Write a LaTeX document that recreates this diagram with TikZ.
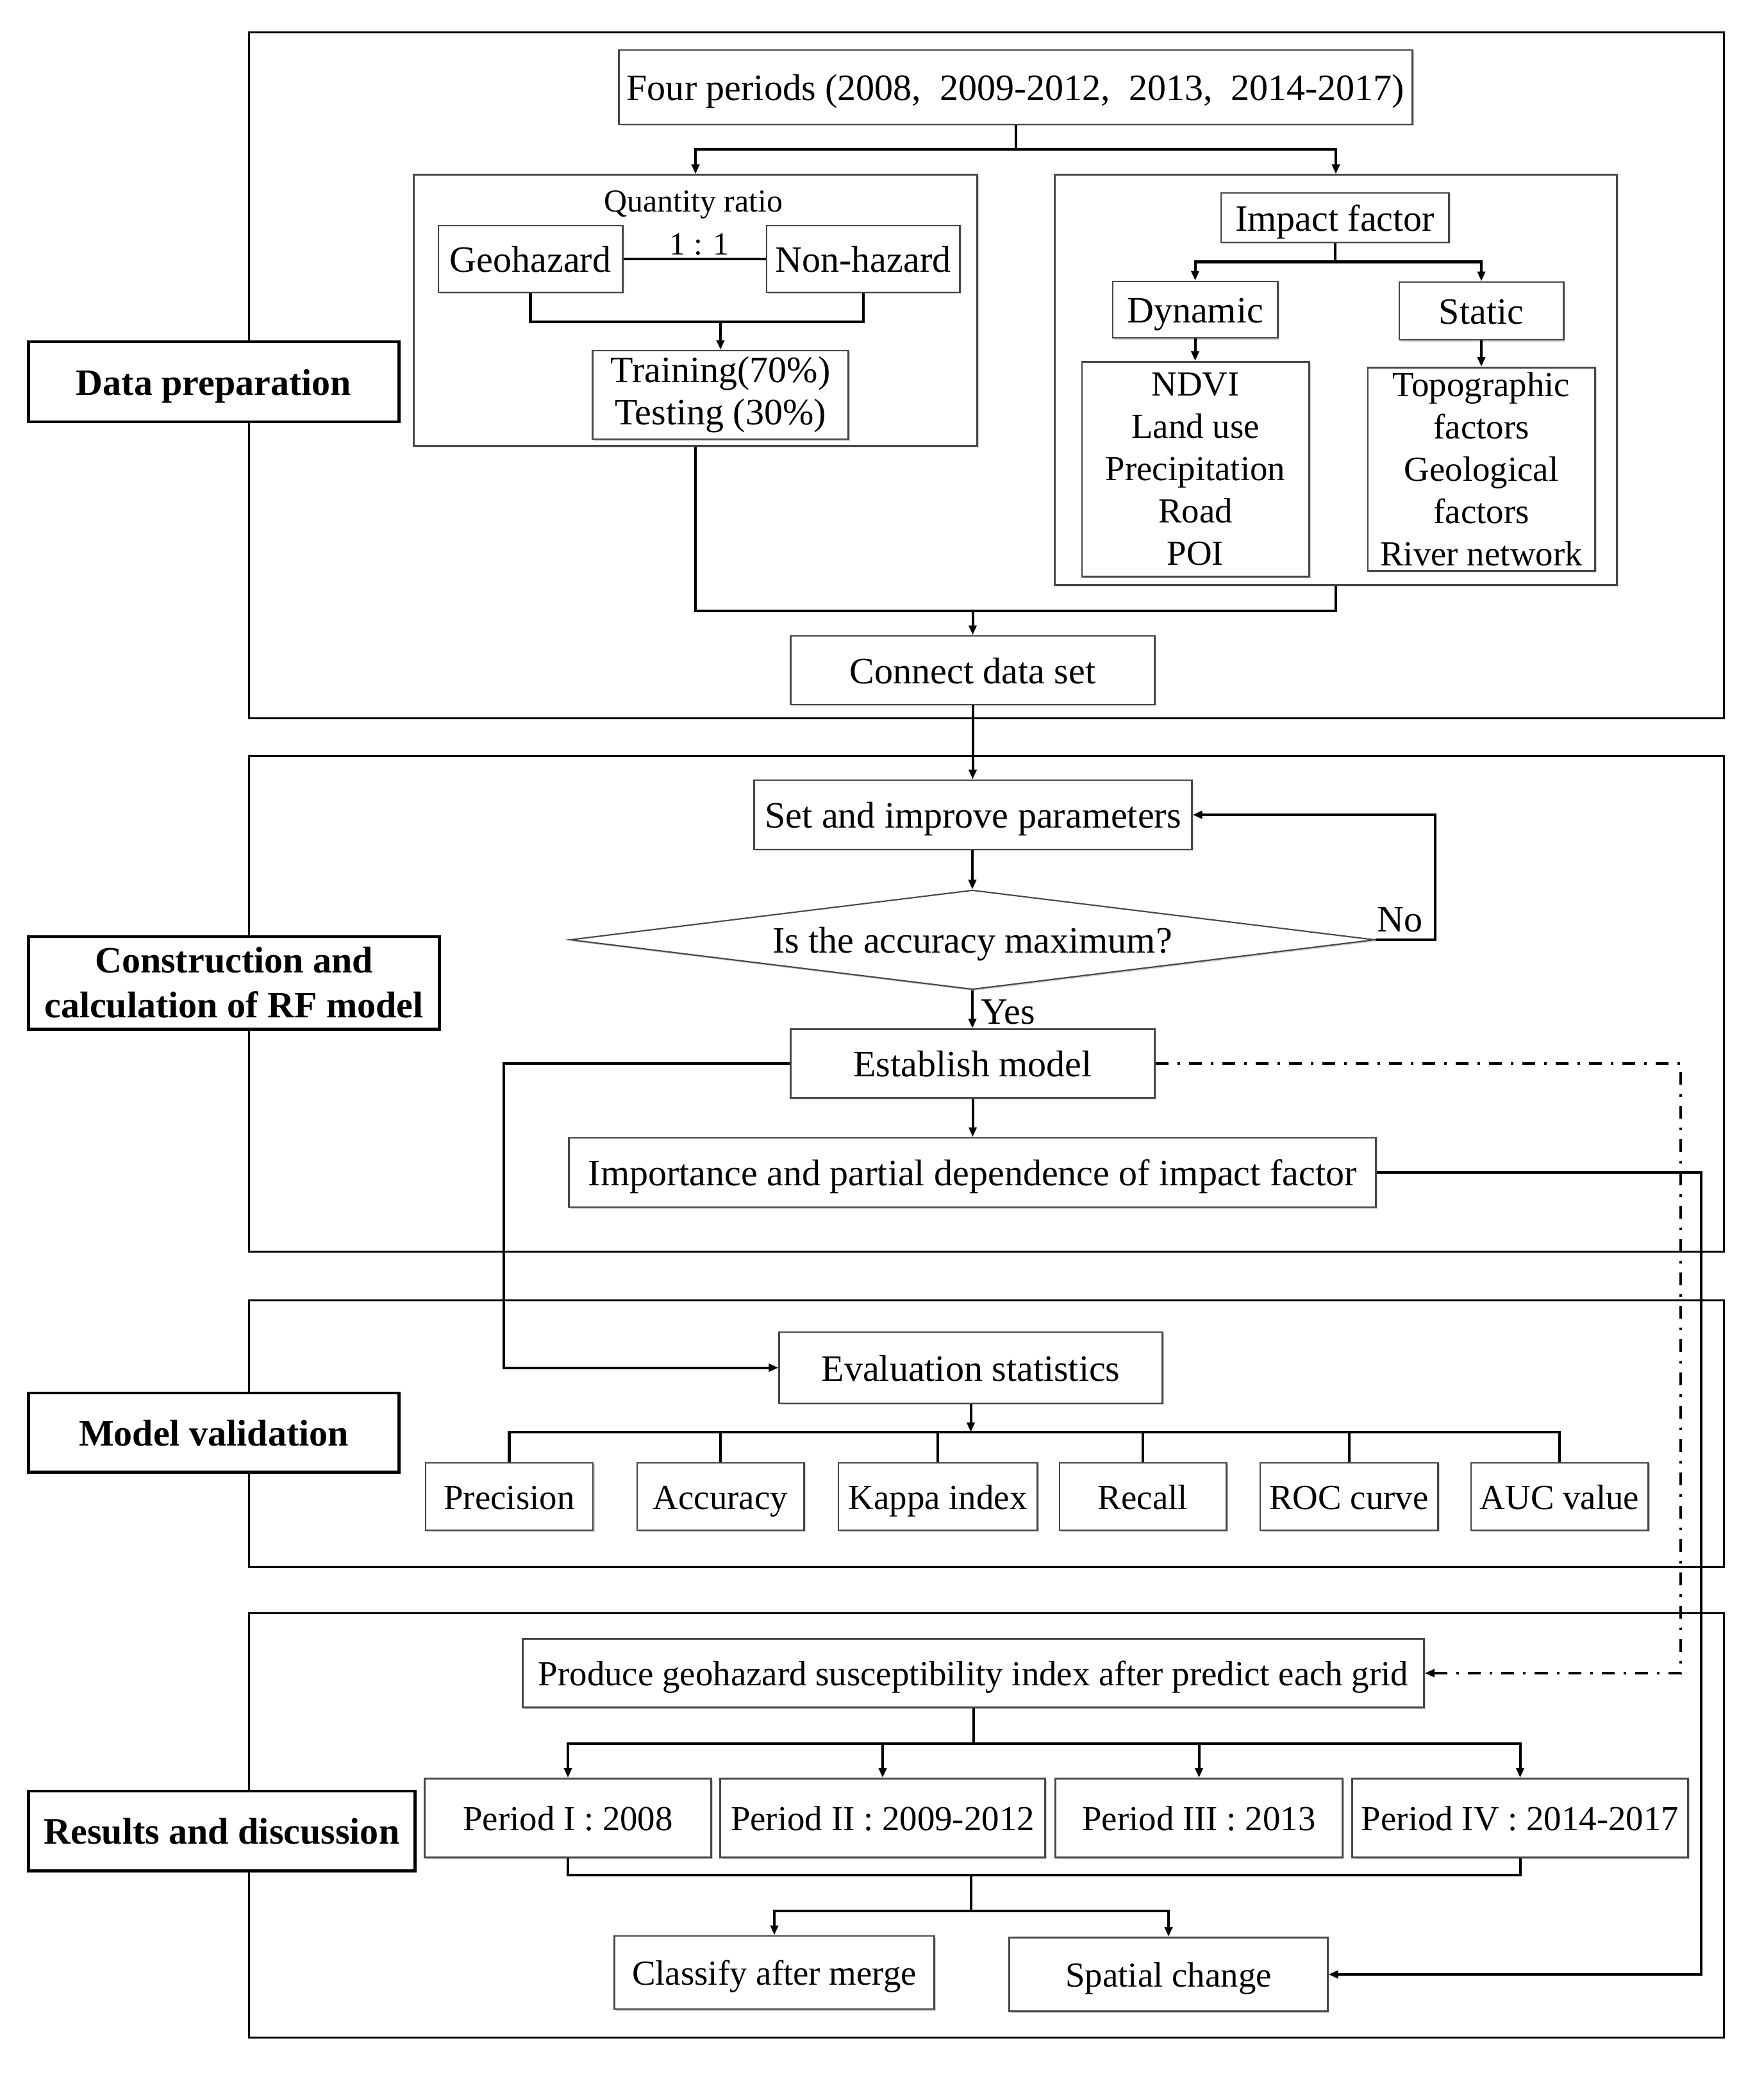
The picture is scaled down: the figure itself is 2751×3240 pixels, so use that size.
\documentclass[tikz,border=0pt]{standalone}
\usepackage{fontspec}
\setmainfont{Liberation Serif}
\usetikzlibrary{arrows.meta,shapes.geometric,shadows}
\begin{document}
\begin{tikzpicture}[x=0.01cm,y=-0.01cm,
  conn/.style={line width=1.15pt,black},
  arr/.style={conn,-{Triangle[length=0.15cm,width=0.12cm]}},
  ddline/.style={dash pattern=on 0.2cm off 0.14cm on 0.04cm off 0.14cm},
  frame/.style={line width=0.85pt,black},
  shd/.style={drop shadow={shadow xshift=0.025cm,shadow yshift=-0.025cm,fill=black,opacity=0.18}},
  bx/.style={draw=black!72,line width=0.8pt,fill=white,inner sep=0pt,align=center,
    font=\fontsize{16.5pt}{18.8pt}\selectfont,shd},
  one/.style={text height=15.2pt,text depth=3.3pt},
  smfont/.style={font=\fontsize{15.6pt}{18.8pt}\selectfont},
  onesm/.style={smfont,text height=14.35pt,text depth=3.1pt},
  lab/.style={draw=black,line width=1.4pt,fill=white,inner sep=0pt,align=center,
    font=\fontsize{16.5pt}{20pt}\selectfont\bfseries},
  dia/.style={diamond,aspect=8,draw=black!72,line width=0.6pt,fill=white,inner sep=0pt,
    font=\fontsize{16.5pt}{18.8pt}\selectfont,shd,one},
  txt/.style={inner sep=0pt,font=\fontsize{16.5pt}{18.8pt}\selectfont},
  smalltxt/.style={inner sep=0pt,font=\fontsize{14.2pt}{16pt}\selectfont},
]
\useasboundingbox (0,0) rectangle (2751,3240);

% section frames
\draw[frame] (388,51) rectangle (2689,1120);
\draw[frame] (388,1179) rectangle (2689,1952);
\draw[frame] (388,2028) rectangle (2689,2444);
\draw[frame] (388,2516) rectangle (2689,3178);

% section labels
\node[lab,one,minimum width=5.77cm,minimum height=1.25cm] (lab1) at (333.5,595.5) {Data preparation};
\node[lab,minimum width=6.40cm,minimum height=1.44cm] (lab2) at (365,1533) {Construction and\\calculation of RF model};
\node[lab,one,minimum width=5.77cm,minimum height=1.23cm] (lab3) at (333.5,2234.5) {Model validation};
\node[lab,one,minimum width=6.02cm,minimum height=1.24cm] (lab4) at (346,2856) {Results and discussion};

% ---------- Data preparation ----------
\node[bx,one,minimum width=12.37cm,minimum height=1.16cm] (four) at (1584.5,136)
  {Four periods (2008,\ \ 2009-2012,\ \ 2013,\ \ 2014-2017)};
\node[bx,minimum width=8.78cm,minimum height=4.22cm] (leftin) at (1085,484) {};
\node[bx,minimum width=8.76cm,minimum height=6.39cm] (rightin) at (2084,592.5) {};

\node[smalltxt] (qr) at (1082,319) {Quantity ratio};
\node[bx,one,minimum width=2.87cm,minimum height=1.04cm] (geo) at (827.5,404) {Geohazard};
\node[bx,one,minimum width=3.01cm,minimum height=1.04cm] (non) at (1346.5,404) {Non-hazard};
\node[smalltxt] (ratio) at (1091,381) {1 : 1};
\node[bx,minimum width=3.98cm,minimum height=1.38cm] (train) at (1124,616)
  {Training(70\%)\\Testing (30\%)};

\node[bx,one,minimum width=3.55cm,minimum height=0.77cm] (impact) at (2082.5,339.5) {Impact factor};
\node[bx,one,minimum width=2.57cm,minimum height=0.88cm] (dyn) at (1864.5,483) {Dynamic};
\node[bx,one,minimum width=2.56cm,minimum height=0.90cm] (stat) at (2311,485) {Static};
\node[bx,smfont,minimum width=3.54cm,minimum height=3.35cm] (dynlist) at (1865,732)
  {NDVI\\Land use\\Precipitation\\Road\\POI};
\node[bx,smfont,minimum width=3.54cm,minimum height=3.17cm] (statlist) at (2311,732)
  {Topographic\\factors\\Geological\\factors\\River network};

\node[bx,one,minimum width=5.67cm,minimum height=1.07cm] (cds) at (1517.5,1045.5) {Connect data set};

% ---------- RF model ----------
\node[bx,one,minimum width=6.82cm,minimum height=1.08cm] (set) at (1518,1271) {Set and improve parameters};
\node[dia,minimum width=12.55cm,minimum height=1.55cm] (acc) at (1517,1466) {Is the accuracy maximum?};
\node[bx,one,minimum width=5.67cm,minimum height=1.07cm] (est) at (1517.5,1659) {Establish model};
\node[bx,one,minimum width=12.58cm,minimum height=1.08cm] (imp) at (1517,1829)
  {Importance and partial dependence of impact factor};
\node[txt] (no) at (2184,1435) {No};
\node[txt,anchor=west] (yes) at (1530,1579) {Yes};

% ---------- Model validation ----------
\node[bx,one,minimum width=5.97cm,minimum height=1.11cm] (eval) at (1514.5,2133.5) {Evaluation statistics};
\node[bx,onesm,minimum width=2.61cm,minimum height=1.05cm] (prec) at (794.5,2334.5) {Precision};
\node[bx,onesm,minimum width=2.60cm,minimum height=1.05cm] (accu) at (1124,2334.5) {Accuracy};
\node[bx,onesm,minimum width=3.10cm,minimum height=1.05cm] (kappa) at (1463,2334.5) {Kappa index};
\node[bx,onesm,minimum width=2.60cm,minimum height=1.05cm] (recall) at (1783,2334.5) {Recall};
\node[bx,onesm,minimum width=2.77cm,minimum height=1.05cm] (roc) at (2104.5,2334.5) {ROC curve};
\node[bx,onesm,minimum width=2.76cm,minimum height=1.05cm] (auc) at (2433,2334.5) {AUC value};

% ---------- Results ----------
\node[bx,onesm,minimum width=14.05cm,minimum height=1.07cm] (prod) at (1518.5,2610)
  {Produce geohazard susceptibility index after predict each grid};
\node[bx,onesm,minimum width=4.47cm,minimum height=1.23cm] (p1) at (886,2836) {Period I : 2008};
\node[bx,onesm,minimum width=5.06cm,minimum height=1.23cm] (p2) at (1377,2836) {Period II : 2009-2012};
\node[bx,onesm,minimum width=4.47cm,minimum height=1.23cm] (p3) at (1870.5,2836) {Period III : 2013};
\node[bx,onesm,minimum width=5.23cm,minimum height=1.23cm] (p4) at (2371.5,2836) {Period IV : 2014-2017};
\node[bx,onesm,minimum width=4.98cm,minimum height=1.14cm] (cls) at (1208,3077) {Classify after merge};
\node[bx,onesm,minimum width=4.96cm,minimum height=1.15cm] (spatial) at (1823,3080) {Spatial change};

% ---------- connectors ----------
\coordinate (b1) at (1584.5,233);
\draw[conn] (four.south) -- (b1);
\draw[arr] (b1) -| (leftin.north);
\draw[arr] (b1) -| (rightin.north);

\draw[conn] (geo.east) -- (non.west);
\coordinate (b2) at (1124,502);
\draw[conn] (geo.south) |- (b2) -| (non.south);
\draw[arr] (b2) -- (train.north);

\coordinate (b3) at (1517.5,953);
\draw[conn] (leftin.south) |- (b3) -| (rightin.south);
\draw[arr] (b3) -- (cds.north);

\coordinate (b4) at (2082.5,408.5);
\draw[conn] (impact.south) -- (b4);
\draw[arr] (b4) -| (dyn.north);
\draw[arr] (b4) -| (stat.north);
\draw[arr] (dyn.south) -- (dyn.south |- dynlist.north);
\draw[arr] (stat.south) -- (stat.south |- statlist.north);

\draw[arr] (cds.south) -- (cds.south |- set.north);
\draw[arr] (set.south -| acc.north) -- (acc.north);
\draw[arr] (acc.east) -- ++(93,0) |- (set.east);
\draw[arr] (acc.south) -- (acc.south |- est.north);
\draw[arr] (est.south) -- (est.south |- imp.north);
\draw[arr] (est.west) -- ++(-446,0) |- (eval.west);
\draw[arr,ddline] (est.east) -- ++(819,0) |- (prod.east);
\draw[arr] (imp.east) -- ++(506,0) |- (spatial.east);

\coordinate (b5) at (1514.5,2234);
\draw[arr] (eval.south) -- (b5);
\draw[conn] (prec.north) |- (b5) -| (auc.north);
\foreach \n in {accu,kappa,recall,roc} \draw[conn] (\n.north) -- (\n.north |- b5);

\coordinate (b6) at (1518.5,2719.5);
\draw[conn] (prod.south) -- (b6);
\draw[arr] (b6) -| (p1.north);
\draw[arr] (b6) -| (p4.north);
\draw[arr] (p2.north |- b6) -- (p2.north);
\draw[arr] (p3.north |- b6) -- (p3.north);

\coordinate (b7) at (1515,2925);
\coordinate (b8) at (1515,2981);
\draw[conn] (p1.south) |- (b7) -| (p4.south);
\draw[conn] (b7) -- (b8);
\draw[arr] (b8) -| (cls.north);
\draw[arr] (b8) -| (spatial.north);
\end{tikzpicture}
\end{document}
